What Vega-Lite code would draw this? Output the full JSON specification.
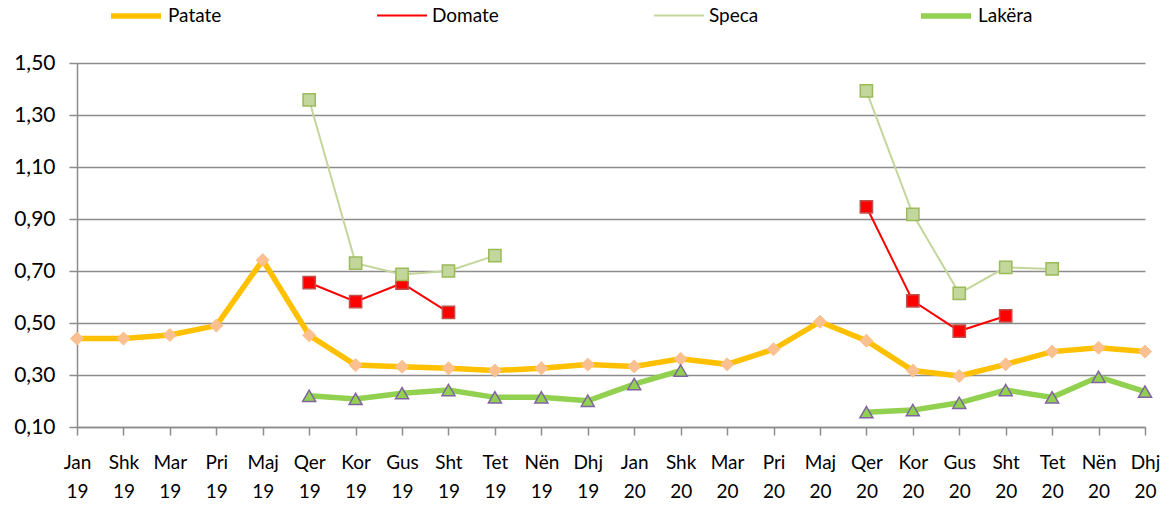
{
  "$schema": "https://vega.github.io/schema/vega-lite/v6.json",
  "width": 1068,
  "height": 364,
  "autosize": {"type": "none"},
  "padding": {"left": 77, "top": 63, "right": 29, "bottom": 79},
  "background": "white",
  "config": {
    "view": {"stroke": null},
    "font": "Lato",
    "axis": {"labelFont": "Lato", "labelColor": "#000000", "titleFont": "Lato"},
    "legend": {"labelFont": "Lato"}
  },
  "data": {
    "values": [
      {"m": "Jan 19", "s": "Patate", "v": 0.44},
      {"m": "Shk 19", "s": "Patate", "v": 0.44},
      {"m": "Mar 19", "s": "Patate", "v": 0.454},
      {"m": "Pri 19", "s": "Patate", "v": 0.49},
      {"m": "Maj 19", "s": "Patate", "v": 0.742},
      {"m": "Qer 19", "s": "Patate", "v": 0.453},
      {"m": "Kor 19", "s": "Patate", "v": 0.338},
      {"m": "Gus 19", "s": "Patate", "v": 0.332},
      {"m": "Sht 19", "s": "Patate", "v": 0.326},
      {"m": "Tet 19", "s": "Patate", "v": 0.317},
      {"m": "Nën 19", "s": "Patate", "v": 0.326},
      {"m": "Dhj 19", "s": "Patate", "v": 0.34},
      {"m": "Jan 20", "s": "Patate", "v": 0.333},
      {"m": "Shk 20", "s": "Patate", "v": 0.362},
      {"m": "Mar 20", "s": "Patate", "v": 0.341},
      {"m": "Pri 20", "s": "Patate", "v": 0.399},
      {"m": "Maj 20", "s": "Patate", "v": 0.505},
      {"m": "Qer 20", "s": "Patate", "v": 0.432},
      {"m": "Kor 20", "s": "Patate", "v": 0.317},
      {"m": "Gus 20", "s": "Patate", "v": 0.296},
      {"m": "Sht 20", "s": "Patate", "v": 0.341},
      {"m": "Tet 20", "s": "Patate", "v": 0.39},
      {"m": "Nën 20", "s": "Patate", "v": 0.405},
      {"m": "Dhj 20", "s": "Patate", "v": 0.39},
      {"m": "Qer 19", "s": "Domate", "v": 0.655},
      {"m": "Kor 19", "s": "Domate", "v": 0.582},
      {"m": "Gus 19", "s": "Domate", "v": 0.653},
      {"m": "Sht 19", "s": "Domate", "v": 0.541},
      {"m": "Tet 19", "s": "Domate", "v": null},
      {"m": "Qer 20", "s": "Domate", "v": 0.947},
      {"m": "Kor 20", "s": "Domate", "v": 0.585},
      {"m": "Gus 20", "s": "Domate", "v": 0.469},
      {"m": "Sht 20", "s": "Domate", "v": 0.527},
      {"m": "Qer 19", "s": "Speca", "v": 1.358},
      {"m": "Kor 19", "s": "Speca", "v": 0.73},
      {"m": "Gus 19", "s": "Speca", "v": 0.687},
      {"m": "Sht 19", "s": "Speca", "v": 0.7},
      {"m": "Tet 19", "s": "Speca", "v": 0.759},
      {"m": "Nën 19", "s": "Speca", "v": null},
      {"m": "Qer 20", "s": "Speca", "v": 1.393},
      {"m": "Kor 20", "s": "Speca", "v": 0.918},
      {"m": "Gus 20", "s": "Speca", "v": 0.614},
      {"m": "Sht 20", "s": "Speca", "v": 0.714},
      {"m": "Tet 20", "s": "Speca", "v": 0.708},
      {"m": "Qer 19", "s": "Lakëra", "v": 0.22},
      {"m": "Kor 19", "s": "Lakëra", "v": 0.208},
      {"m": "Gus 19", "s": "Lakëra", "v": 0.23},
      {"m": "Sht 19", "s": "Lakëra", "v": 0.242},
      {"m": "Tet 19", "s": "Lakëra", "v": 0.214},
      {"m": "Nën 19", "s": "Lakëra", "v": 0.214},
      {"m": "Dhj 19", "s": "Lakëra", "v": 0.201},
      {"m": "Jan 20", "s": "Lakëra", "v": 0.265},
      {"m": "Shk 20", "s": "Lakëra", "v": 0.317},
      {"m": "Mar 20", "s": "Lakëra", "v": null},
      {"m": "Qer 20", "s": "Lakëra", "v": 0.157},
      {"m": "Kor 20", "s": "Lakëra", "v": 0.165},
      {"m": "Gus 20", "s": "Lakëra", "v": 0.193},
      {"m": "Sht 20", "s": "Lakëra", "v": 0.242},
      {"m": "Tet 20", "s": "Lakëra", "v": 0.214},
      {"m": "Nën 20", "s": "Lakëra", "v": 0.293},
      {"m": "Dhj 20", "s": "Lakëra", "v": 0.236}
    ]
  },
  "encoding": {
    "x": {
      "field": "m",
      "type": "ordinal",
      "scale": {
        "type": "point",
        "padding": 0,
        "domain": ["Jan 19","Shk 19","Mar 19","Pri 19","Maj 19","Qer 19","Kor 19","Gus 19","Sht 19","Tet 19","Nën 19","Dhj 19","Jan 20","Shk 20","Mar 20","Pri 20","Maj 20","Qer 20","Kor 20","Gus 20","Sht 20","Tet 20","Nën 20","Dhj 20"]
      },
      "axis": {
        "title": null,
        "labelAngle": 0,
        "labelExpr": "split(datum.value, ' ')",
        "labelFontSize": 19,
        "labelLineHeight": 29,
        "labelPadding": 18,
        "labelBaseline": "top",
        "tickSize": 8,
        "tickColor": "#8C8C8C",
        "tickWidth": 1.5,
        "domainColor": "#8C8C8C",
        "domainWidth": 1.5,
        "grid": false
      }
    },
    "y": {
      "field": "v",
      "type": "quantitative",
      "scale": {"domain": [0.1, 1.5], "nice": false, "zero": false},
      "axis": {
        "title": null,
        "values": [0.1, 0.3, 0.5, 0.7, 0.9, 1.1, 1.3, 1.5],
        "labelExpr": "replace(format(datum.value, '.2f'), '.', ',')",
        "labelFontSize": 21,
        "labelPadding": 14,
        "tickSize": 8,
        "tickColor": "#8C8C8C",
        "tickWidth": 1.5,
        "domainColor": "#8C8C8C",
        "domainWidth": 1.5,
        "grid": true,
        "gridColor": "#8C8C8C",
        "gridWidth": 1.5
      }
    }
  },
  "layer": [
    {
      "mark": {"type": "line", "invalid": "break-paths-show-domains"},
      "encoding": {
        "color": {
          "field": "s",
          "type": "nominal",
          "scale": {"domain": ["Patate", "Domate", "Speca", "Lakëra"], "range": ["#FFC000", "#FF0000", "#C3D69B", "#92D050"]},
          "legend": {
            "title": null,
            "orient": "none",
            "direction": "horizontal",
            "legendX": 31,
            "legendY": -75,
            "symbolType": "stroke",
            "symbolSize": 2500,
            "labelFontSize": 19,
            "labelOffset": 4,
            "columnPadding": 151,
            "padding": 0
          }
        },
        "strokeWidth": {
          "field": "s",
          "type": "nominal",
          "scale": {"type": "ordinal", "domain": ["Patate", "Domate", "Speca", "Lakëra"], "range": [5.5, 2, 2, 5.5]},
          "legend": {
            "title": null,
            "orient": "none",
            "direction": "horizontal",
            "legendX": 31,
            "legendY": -75,
            "symbolType": "stroke",
            "symbolSize": 2500,
            "labelFontSize": 19,
            "labelOffset": 4,
            "columnPadding": 151,
            "padding": 0
          }
        }
      }
    },
    {
      "transform": [{"filter": "datum.s == 'Patate' && isValid(datum.v)"}],
      "mark": {"type": "point", "shape": "diamond", "filled": true, "size": 170, "fill": "#FAC090", "stroke": "#FAC090", "strokeWidth": 1, "opacity": 1}
    },
    {
      "transform": [{"filter": "datum.s == 'Domate' && isValid(datum.v)"}],
      "mark": {"type": "point", "shape": "square", "filled": true, "size": 150, "fill": "#FF0000", "stroke": "#C0504D", "strokeWidth": 1.5, "opacity": 1}
    },
    {
      "transform": [{"filter": "datum.s == 'Speca' && isValid(datum.v)"}],
      "mark": {"type": "point", "shape": "square", "filled": true, "size": 150, "fill": "#C3D69B", "stroke": "#9BBB59", "strokeWidth": 1.5, "opacity": 1}
    },
    {
      "transform": [{"filter": "datum.s == 'Lakëra' && isValid(datum.v)"}],
      "mark": {"type": "point", "shape": "triangle-up", "filled": true, "size": 170, "fill": "#92D050", "stroke": "#8064A2", "strokeWidth": 1.5, "opacity": 1}
    }
  ]
}
